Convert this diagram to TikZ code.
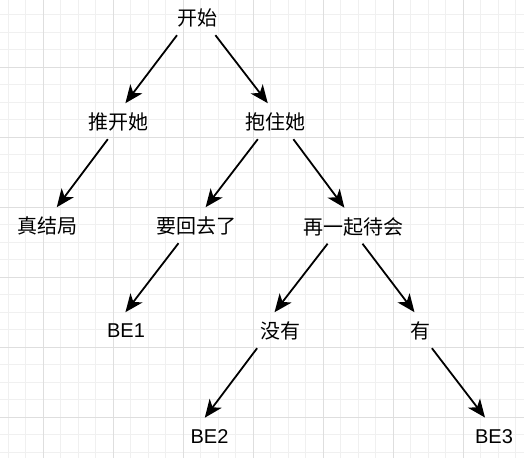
\documentclass[tikz,border=0pt]{standalone}
\usepackage{fontspec}
\setmainfont{Liberation Sans}
\newfontfamily\cjk{Noto Sans CJK SC}
\usetikzlibrary{arrows.meta}
\definecolor{gridminor}{RGB}{240,240,240}
\definecolor{gridmajor}{RGB}{222,222,222}

\begin{document}
\begin{tikzpicture}[x=1pt,y=-1pt,
    lbl/.style={font=\fontsize{20}{24}\selectfont, inner sep=0pt, minimum height=34pt, minimum width=20pt},
    zh/.style={lbl, font=\fontsize{20}{24}\selectfont\cjk},
    arr/.style={-{Stealth[length=18pt,width=15pt,inset=5pt]}, line width=1.8pt, shorten >=2pt}]
    \useasboundingbox (0,0) rectangle (524,458);
    % background grid
    \foreach \i in {0,...,29} \draw[gridminor, line width=1pt] (8.3+17.5*\i,0) -- (8.3+17.5*\i,458);
    \foreach \i in {0,...,26} \draw[gridminor, line width=1pt] (0,14.8+17.5*\i) -- (524,14.8+17.5*\i);
    \foreach \i in {0,...,6} \draw[gridmajor, line width=1pt] (43.3+70*\i,0) -- (43.3+70*\i,458);
    \foreach \i in {0,...,5} \draw[gridmajor, line width=1pt] (0,67+70*\i) -- (524,67+70*\i);
    % nodes
    \node[zh] (start) at (197,18) {开始};
    \node[zh] (push) at (118,122) {推开她};
    \node[zh] (hug) at (275.5,122) {抱住她};
    \node[zh] (trueend) at (47.5,226) {真结局};
    \node[zh] (goback) at (196,226) {要回去了};
    \node[zh] (stay) at (353.3,226.5) {再一起待会};
    \node[lbl] (be1) at (126,331) {BE1};
    \node[zh] (no) at (280.3,331) {没有};
    \node[zh] (yes) at (420.4,331) {有};
    \node[lbl] (be2) at (209.5,436.5) {BE2};
    \node[lbl] (be3) at (494,436.3) {BE3};
    % edges
    \draw[arr] ([xshift=-20pt]start.south) -- ([xshift=6.2pt]push.north);
    \draw[arr] ([xshift=18.4pt]start.south) -- ([xshift=-6.5pt]hug.north);
    \draw[arr] ([xshift=-10.2pt]push.south) -- ([xshift=8.1pt]trueend.north);
    \draw[arr] ([xshift=-17.7pt]hug.south) -- ([xshift=8.4pt]goback.north);
    \draw[arr] ([xshift=17.9pt]hug.south) -- ([xshift=-7.7pt]stay.north);
    \draw[arr] ([xshift=-17.5pt]goback.south) -- ([xshift=-1.8pt]be1.north);
    \draw[arr] ([xshift=-25.7pt]stay.south) -- ([xshift=-7pt]no.north);
    \draw[arr] ([xshift=9.2pt]stay.south) -- ([xshift=-4.7pt]yes.north);
    \draw[arr] ([xshift=-23.2pt]no.south) -- ([xshift=-5.9pt]be2.north);
    \draw[arr] ([xshift=11.5pt]yes.south) -- ([xshift=-7.8pt]be3.north);
\end{tikzpicture}
\end{document}
